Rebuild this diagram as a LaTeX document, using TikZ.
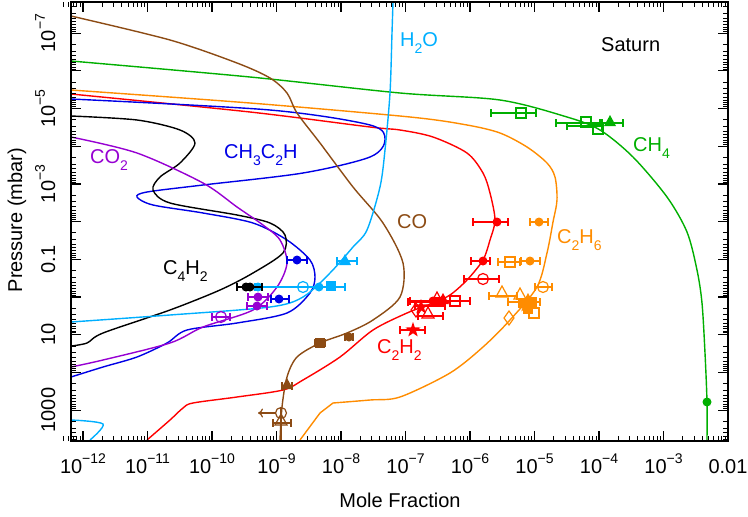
\documentclass[tikz,border=0pt]{standalone}
\usepackage{fontspec}
\usetikzlibrary{arrows.meta}
\setmainfont{Liberation Sans}
\definecolor{cgreen}{RGB}{0,175,0}
\definecolor{corange}{RGB}{255,140,0}
\definecolor{cred}{RGB}{255,0,0}
\definecolor{cblue}{RGB}{0,0,230}
\definecolor{cpurple}{RGB}{150,0,210}
\definecolor{cbrown}{RGB}{140,75,20}
\definecolor{csky}{RGB}{0,175,255}
\newcommand\fs{\fontsize{20}{24}\selectfont}
\newcommand\sm{\fontsize{14}{14}\selectfont}
\newcommand\pw[1]{10\raisebox{0.5em}{\sm\char"2212\relax #1}}
\newcommand\dn[1]{\raisebox{-0.35em}{\sm #1}}
\newcommand\ebar[4]{\draw[#1,line width=1.2pt] (#2,#4)--(#3,#4) (#2,{#4-4})--(#2,{#4+4}) (#3,{#4-4})--(#3,{#4+4});}
\newcommand\fcirc[3]{\fill[#1] (#2,#3) circle (4.5);}
\newcommand\ocirc[3]{\draw[#1,line width=1.2pt] (#2,#3) circle (5.5);}
\newcommand\osq[3]{\draw[#1,line width=1.2pt] ({#2-5},{#3-5}) rectangle ++(10,10);}
\newcommand\fsq[3]{\fill[#1] ({#2-5},{#3-5}) rectangle ++(10,10);}
\newcommand\otri[3]{\draw[#1,line width=1.2pt] (#2,{#3-7})--({#2-6},{#3+4})--({#2+6},{#3+4})--cycle;}
\newcommand\ftri[3]{\fill[#1] (#2,{#3-7})--({#2-6},{#3+4})--({#2+6},{#3+4})--cycle;}
\newcommand\odia[3]{\draw[#1,line width=1.2pt] (#2,{#3-7})--({#2+5},#3)--(#2,{#3+7})--({#2-5},#3)--cycle;}
\newcommand\fstar[3]{\fill[#1] (#2,#3) +(-90:8) -- +(-54:3.2) -- +(-18:8) -- +(18:3.2) -- +(54:8) -- +(90:3.2) -- +(126:8) -- +(162:3.2) -- +(198:8) -- +(234:3.2) -- cycle;}
\begin{document}
\begin{tikzpicture}[x=1pt,y=-1pt,curve/.style={line width=1.4pt},lbl/.style={inner sep=0,font=\fs}]
\useasboundingbox (0,0) rectangle (748,517);
% curves
\draw[curve,cgreen] plot[smooth] coordinates {(71,61) (250,77) (400,93) (500,100) (567,117) (600,130) (633,157) (667,197) (687,232) (697,270) (702,303) (705,353) (707,402) (707,440)};
\draw[curve,corange] plot[smooth] coordinates {(71,90) (250,103) (410,117) (467,125) (500,133) (527,147) (547,163) (555,177) (557,200) (553,222) (547,253) (537,287) (510,320) (483,347) (450,373) (400,397) (370,400) (333,403)} -- (320,413) -- (300,440);
\draw[curve,cred] plot[smooth] coordinates {(71,94) (250,112) (370,127) (400,130) (433,137) (467,153) (483,173) (490,193) (495,220) (490,240) (483,260) (467,280) (450,295) (433,303) (407,313) (373,330) (340,357) (303,380) (283,390) (237,397) (193,403) (183,408) (170,420) (147,440)};
\draw[curve,cblue] plot[smooth] coordinates {(71,99) (270,110) (370,125) (385,140) (370,157) (303,173) (203,185) (147,192) (137,197) (153,205) (203,213) (253,223) (287,240) (310,260) (315,277) (310,293) (287,313) (237,323) (187,330) (167,343) (137,357) (103,367) (71,377)};
\draw[curve,black] plot[smooth] coordinates {(71,116) (137,120) (180,130) (195,143) (180,163) (160,177) (153,190) (170,203) (237,215) (270,223) (285,235) (283,253) (253,273) (220,290) (170,310) (103,333) (87,343) (71,346)};
\draw[curve,cpurple] plot[smooth] coordinates {(71,137) (137,153) (203,183) (237,207) (263,225) (280,240) (287,263) (277,287) (253,310) (203,327) (170,343) (103,360) (71,367)};
\draw[curve,cbrown] plot[smooth] coordinates {(71,16) (170,40) (237,63) (270,78) (287,93) (297,113) (320,143) (353,187) (383,223) (403,263) (400,297) (373,320) (347,333) (320,343) (297,357) (287,377) (282,407) (280,440)};
\draw[curve,csky] plot[smooth] coordinates {(393,2) (392,33) (390,93) (385,150) (380,187) (367,230) (353,247) (330,273) (303,297) (270,307) (170,315) (71,322)};
\draw[curve,csky] plot[smooth] coordinates {(71,420) (103,424) (90,440)};
% data: CH4
\ebar{cgreen}{491}{536}{113}\osq{cgreen}{521}{113}
\ebar{cgreen}{556}{602}{123}\osq{cgreen}{586}{122}
\ebar{cgreen}{567}{602}{126}\osq{cgreen}{598}{129}
\ebar{cgreen}{600}{623}{123}\ftri{cgreen}{610}{122}
\fcirc{cgreen}{707}{402}
% C2H2
\ebar{cred}{473}{508}{222}\fcirc{cred}{497}{222}
\ebar{cred}{471}{490}{261}\fcirc{cred}{483}{261}
\ebar{cred}{464}{499}{279}\ocirc{cred}{483}{279}
\ebar{cred}{410}{470}{301}\osq{cred}{455}{301}
\ebar{cred}{408}{450}{302}\fsq{cred}{440}{302}\fcirc{cred}{433}{301}\ftri{cred}{443}{300}\otri{cred}{437}{299}
\ebar{cred}{415}{445}{306}\fstar{cred}{421}{307}\odia{cred}{416}{310}
\ebar{cred}{418}{443}{316}\otri{cred}{428}{314}
\ebar{cred}{400}{425}{330}\fstar{cred}{413}{330}
% C2H6
\ebar{corange}{530}{548}{222}\fcirc{corange}{539}{222}
\ebar{corange}{521}{540}{261}\fcirc{corange}{530}{261}
\ebar{corange}{498}{520}{262}\osq{corange}{510}{262}
\ebar{corange}{535}{552}{287}\ocirc{corange}{543}{287}
\ebar{corange}{489}{517}{296}\otri{corange}{502}{293}
\ebar{corange}{508}{540}{302}\otri{corange}{520}{295}\fsq{corange}{523}{303}\fsq{corange}{532}{302}\ftri{corange}{528}{300}
\fsq{corange}{528}{309}\osq{corange}{534}{313}\odia{corange}{509}{318}\fstar{corange}{526}{305}
% CH3C2H
\ebar{cblue}{287}{307}{260}\fcirc{cblue}{297}{260}
\ebar{cblue}{271}{289}{299}\fcirc{cblue}{279}{299}
% H2O
\ebar{csky}{337}{357}{261}\ftri{csky}{345}{261}
\ebar{csky}{255}{345}{287}\ocirc{csky}{303}{287}\fcirc{csky}{319}{287}\fsq{csky}{331}{286}\fcirc{csky}{258}{287}
% C4H2
\ebar{black}{237}{262}{287}\fcirc{black}{246}{287}\fcirc{black}{250}{287}
% CO2
\ebar{cpurple}{248}{268}{297}\fcirc{cpurple}{258}{297}
\ebar{cpurple}{247}{267}{306}\fcirc{cpurple}{257}{306}
\ebar{cpurple}{212}{230}{317}\ocirc{cpurple}{221}{317}
% CO
\ebar{cbrown}{315}{325}{343}\fsq{cbrown}{320}{343}
\ebar{cbrown}{345}{353}{337}\fcirc{cbrown}{349}{337}
\ebar{cbrown}{282}{292}{386}\ftri{cbrown}{287}{385}
\draw[cbrown,line width=1.2pt] (281,407)--(281,440);
\ocirc{cbrown}{281}{413}\draw[cbrown,line width=1.2pt,-{To[length=5pt,width=9pt]}] (276,413)--(258,413);
\ebar{cbrown}{273}{291}{423}\otri{cbrown}{281}{421}
% labels
\node[lbl,csky,anchor=west] (h2o) at (400,43) {H\dn{2}O};
\node[lbl,black,anchor=west] (sat) at (601,45) {Saturn};
\node[lbl,cgreen,anchor=west] (ch4) at (633,148) {CH\dn{4}};
\node[lbl,cpurple,anchor=west] (co2) at (90,160) {CO\dn{2}};
\node[lbl,cblue,anchor=west] (ch3) at (224,155) {CH\dn{3}C\dn{2}H};
\node[lbl,cbrown,anchor=west] (co) at (397,222) {CO};
\node[lbl,corange,anchor=west] (c2h6) at (557,240) {C\dn{2}H\dn{6}};
\node[lbl,black,anchor=west] (c4h2) at (163,271) {C\dn{4}H\dn{2}};
\node[lbl,cred,anchor=west] (c2h2) at (377,350) {C\dn{2}H\dn{2}};
% axes
\draw[line width=1.5pt] (71,2) rectangle (728,441);
\foreach \d in {-12,...,-3}{
  \pgfmathsetmacro\xx{857+64.5*\d}
  \draw[line width=1.2pt] (\xx,441)--(\xx,431) (\xx,2)--(\xx,12);
  \foreach \m in {2,...,9}{
    \pgfmathsetmacro\xm{857+64.5*(\d+log10(\m))}
    \draw[line width=1pt] (\xm,441)--(\xm,436) (\xm,2)--(\xm,7);}
}
\foreach \m in {5,...,9}{
  \pgfmathsetmacro\xm{857+64.5*(-13+log10(\m))}
  \draw[line width=1pt] (\xm,441)--(\xm,436) (\xm,2)--(\xm,7);}
\foreach \p in {-7,...,3}{
  \pgfmathsetmacro\yy{297+37.7*\p}
  \draw[line width=1.2pt] (71,\yy)--(81,\yy) (728,\yy)--(718,\yy);
  \foreach \m in {2,...,9}{
    \pgfmathsetmacro\ym{297+37.7*(\p+log10(\m))}
    \ifdim\ym pt<441pt \draw[line width=1pt] (71,\ym)--(76,\ym) (728,\ym)--(723,\ym);\fi}
}
\foreach \m in {2,...,9}{
  \pgfmathsetmacro\ym{297+37.7*(-8+log10(\m))}
  \ifdim\ym pt>2pt \draw[line width=1pt] (71,\ym)--(76,\ym) (728,\ym)--(723,\ym);\fi}
% x labels
\foreach \d/\n in {12/a,11/b,10/c,9/d,8/e,7/f,6/g,5/h,4/i,3/j}{
  \pgfmathsetmacro\xx{857-64.5*\d}
  \node[lbl,anchor=base] (x\n) at (\xx,473) {\pw{\d}};}
\node[lbl,anchor=base] (xk) at (728,473) {0.01};
% y labels
\foreach \p/\n in {7/a,5/b,3/c}{
  \pgfmathsetmacro\yy{297-37.7*\p}
  \node[lbl,rotate=90,anchor=base] (y\n) at (55,\yy) {\pw{\p}};}
\node[lbl,rotate=90,anchor=base] (yd) at (55,259.3) {0.1};
\node[lbl,rotate=90,anchor=base] (ye) at (55,334.7) {10};
\node[lbl,rotate=90,anchor=base] (yf) at (55,410.1) {1000};
\node[lbl,rotate=90,anchor=base] (ylab) at (22,220) {Pressure (mbar)};
\node[lbl,anchor=base] (xlab) at (400,507) {Mole Fraction};
\end{tikzpicture}
\end{document}
